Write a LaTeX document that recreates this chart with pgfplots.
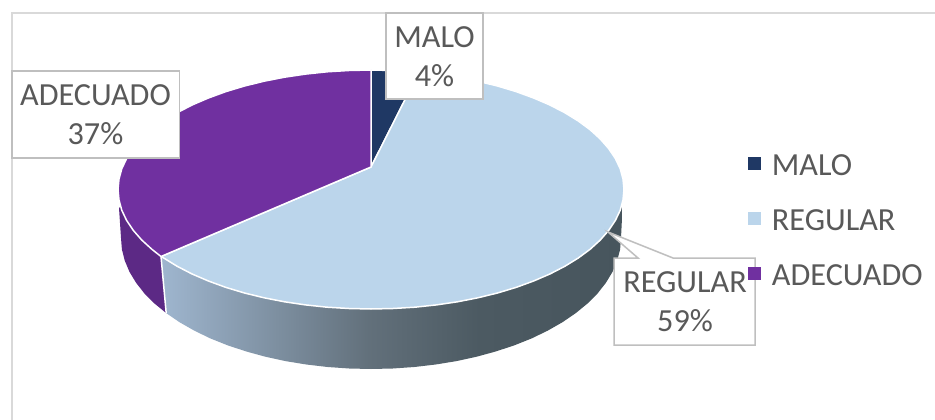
\documentclass[border=0pt]{standalone}
\usepackage{fontspec}
\setmainfont{Carlito}
\usepackage{pgfplots}
\pgfplotsset{compat=1.18}
\definecolor{navyc}{HTML}{1F3864}
\definecolor{bluec}{HTML}{BBD5EB}
\definecolor{purpc}{HTML}{7030A0}
\definecolor{purpd}{HTML}{5C2985}
\definecolor{txt}{HTML}{595959}
\definecolor{boxl}{HTML}{BFBFBF}
\definecolor{framec}{HTML}{D9D9D9}
\definecolor{sa}{HTML}{9FB6CF}
\definecolor{sb}{HTML}{62707B}
\definecolor{sc}{HTML}{4C5A62}
\definecolor{sd}{HTML}{47555D}
\pgfdeclarehorizontalshading{sidegrey}{100bp}{
 color(0bp)=(sa);
 color(25bp)=(sa);
 color(47.5bp)=(sb);
 color(59.5bp)=(sc);
 color(75bp)=(sd);
 color(100bp)=(sd)}
\newcommand{\lbl}{\fontsize{32.2}{39}\selectfont}
\begin{document}
\begin{tikzpicture}[x=1pt,y=1pt]
\path[use as bounding box,fill=white] (0,0) rectangle (935,420);
\begin{axis}[at={(0,0)},anchor=south west,scale only axis,width=935pt,height=420pt,
  xmin=0,xmax=935,ymin=0,ymax=420,y dir=reverse,hide axis,clip=false,
  legend image code/.code={\path[#1,draw=none] (0pt,-6.5pt) rectangle (13pt,6.5pt);\path (23pt,0pt);},
  legend cell align=left,
  legend style={at={(axis cs:748,152)},anchor=north west,draw=none,fill=none,
    font=\lbl,text=txt,row sep=32pt,inner sep=0pt,
    nodes={inner sep=0pt,text height=23pt,text depth=0pt}},
]
% chart frame
\addplot[forget plot,framec,line width=1.6pt] coordinates {(12,420)(12,13)(935,13)};
% side walls
\addplot[forget plot,draw=none,fill=purpd] coordinates {
(161,256.5)(166.2,313.1)(154.5,303.5)(144.4,293.4)(136.1,282.8)(129.5,271.9)(124.8,260.7)(121.9,249.4)(121,238)(119,208)(140,190)} --cycle;
\addplot[forget plot,draw=none,shade,shading=sidegrey] coordinates {
(622.5,208)(621,238)(620.1,249.4)(617.2,260.7)(612.5,271.9)(605.9,282.8)(597.6,293.4)(587.5,303.5)(575.8,313.1)(562.5,322.2)(547.8,330.6)(531.7,338.4)(514.4,345.3)(496,351.4)(476.7,356.7)(456.5,361.1)(435.7,364.5)(414.4,367)(392.8,368.5)(371,369)(349.2,368.5)(327.6,367)(306.3,364.5)(285.5,361.1)(265.3,356.7)(246,351.4)(227.6,345.3)(210.3,338.4)(194.2,330.6)(179.5,322.2)(166.2,313.1)(161,256.5)(600,190)} --cycle;
\addplot[forget plot,white,line width=1.5pt] coordinates {(161,256.5)(166.2,313.1)};
% top slices
\addplot[draw=white,line width=1.5pt,fill=navyc,line join=round] coordinates {
(371,167)(371,70)(393.1,70.5)(419,72)} --cycle;
\addlegendentry{MALO}
\addplot[draw=white,line width=1.5pt,fill=bluec,line join=round] coordinates {
(371,167)(419,72)(436.5,74.1)(457.5,77.2)(477.9,81.2)(497.5,86)(516.1,91.6)(533.6,98)(549.9,105)(564.8,112.7)(578.3,121)(590.1,129.7)(600.3,139)(608.7,148.6)(615.4,158.6)(620.2,168.7)(623,179.1)(624,189.5)(623,199.9)(620.2,210.3)(615.4,220.4)(608.7,230.4)(600.3,240)(590.1,249.3)(578.3,258)(564.8,266.3)(549.9,274)(533.6,281)(516.1,287.4)(497.5,293)(477.9,297.8)(457.5,301.8)(436.5,304.9)(414.9,307.2)(393.1,308.5)(371,309)(348.9,308.5)(327.1,307.2)(305.5,304.9)(284.5,301.8)(264.1,297.8)(244.5,293)(225.9,287.4)(208.4,281)(192.1,274)(177.2,266.3)(163.7,258)(161,256.5)} --cycle;
\addlegendentry{REGULAR}
\addplot[draw=white,line width=1.5pt,fill=purpc,line join=round] coordinates {
(371,167)(161,256.5)(151.9,249.3)(141.7,240)(133.3,230.4)(126.6,220.4)(121.8,210.3)(119,199.9)(118,189.5)(119,179.1)(121.8,168.7)(126.6,158.6)(133.3,148.6)(141.7,139)(151.9,129.7)(163.7,121)(177.2,112.7)(192.1,105)(208.4,98)(225.9,91.6)(244.5,86)(264.1,81.2)(284.5,77.2)(305.5,74.1)(327.1,71.8)(348.9,70.5)(371,70)} --cycle;
\addlegendentry{ADECUADO}
% label boxes
\addplot[forget plot,draw=boxl,fill=white,line width=1.5pt] coordinates {(386,13)(483,13)(483,99)(386,99)} --cycle;
\addplot[forget plot,draw=boxl,fill=white,line width=1.5pt] coordinates {(12,71)(179.5,71)(179.5,158)(12,158)} --cycle;
\addplot[forget plot,draw=boxl,fill=white,line width=1.5pt] coordinates {(614,258)(638,258)(608,232)(673,258)(755,258)(755,345)(614,345)} --cycle;
\node[font=\lbl,text=txt,align=center,inner sep=0pt] at (axis cs:434.5,56.5) {MALO\\4\%};
\node[font=\lbl,text=txt,align=center,inner sep=0pt] at (axis cs:95.5,115) {ADECUADO\\37\%};
\node[font=\lbl,text=txt,align=center,inner sep=0pt] at (axis cs:685,302) {REGULAR\\59\%};
\end{axis}
\end{tikzpicture}
\end{document}
